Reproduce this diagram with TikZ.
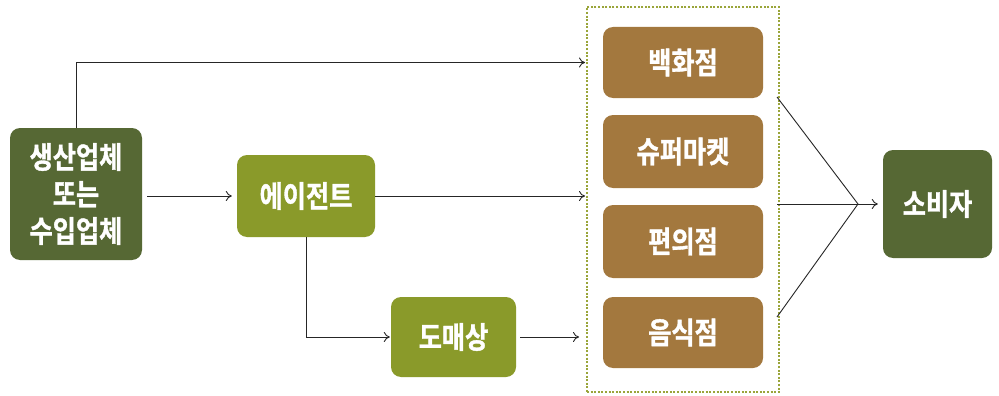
\documentclass[tikz,border=0pt]{standalone}
\usepackage{fontspec}
\newfontfamily\kr{Noto Sans CJK KR Bold}[FakeStretch=0.84, FakeBold=1.2]
\usetikzlibrary{fit,arrows.meta,calc}
\definecolor{darkgreen}{HTML}{566834}
\definecolor{olive}{HTML}{8A9A2A}
\definecolor{brownbox}{HTML}{A3783E}
\definecolor{dotcol}{HTML}{9AA53A}
\tikzset{
  box/.style={rounded corners=10pt, text=white, font=\kr\fontsize{30}{37}\selectfont, align=center, inner sep=0pt},
  greenbox/.style={box, fill=darkgreen},
  olivebox/.style={box, fill=olive},
  brownstyle/.style={box, fill=brownbox},
  conn/.style={draw=black!85, line width=0.9pt},
  arr/.style={conn, -{To[length=6pt,width=10pt]}},
}
\begin{document}
\begin{tikzpicture}[x=1pt,y=-1pt]
\useasboundingbox[fill=white] (0,0) rectangle (999,396);
\node[greenbox, minimum width=132pt, minimum height=132pt] (prod) at (76,194) {생산업체\\또는\\수입업체};
\node[olivebox, minimum width=138pt, minimum height=82pt] (agent) at (306,196) {에이전트};
\node[olivebox, minimum width=125pt, minimum height=80pt] (whole) at (453.5,337) {도매상};
\node[brownstyle, minimum width=160pt, minimum height=71pt] (dept) at (683,62.5) {백화점};
\node[brownstyle, minimum width=160pt, minimum height=73pt] (super) at (683,151.5) {슈퍼마켓};
\node[brownstyle, minimum width=160pt, minimum height=73pt] (conv) at (683,241.5) {편의점};
\node[brownstyle, minimum width=160pt, minimum height=71pt] (rest) at (683,332.5) {음식점};
\node[draw=dotcol, line width=2pt, dash pattern=on 2pt off 1.6pt, inner sep=0pt, fit={(587,7) (779,392)}] (group) {};
\node[greenbox, minimum width=109pt, minimum height=108pt] (cons) at (937.5,204) {소비자};
\coordinate (hub) at (858,204);
\coordinate (s1) at (777,97);
\coordinate (s2) at (777,204);
\coordinate (s3) at (777,317);
\draw[arr] (prod.north) |- ([xshift=-1pt]group.west |- dept.center);
\draw[arr] ([xshift=5pt]prod.east |- agent.west) -- ([xshift=-5pt]agent.west);
\draw[arr] (agent.east) -- ([xshift=-1pt]group.west |- agent.east);
\draw[arr] (agent.south) |- ([xshift=-1pt]whole.west);
\draw[arr] ([xshift=4pt]whole.east) -- ([xshift=-7pt]group.west |- whole.east);
\draw[conn] (s1) -- (hub);
\draw[conn] (s2) -- (hub);
\draw[conn] (s3) -- (hub);
\draw[arr] (hub) -- ([xshift=-5pt]cons.west);
\end{tikzpicture}
\end{document}
